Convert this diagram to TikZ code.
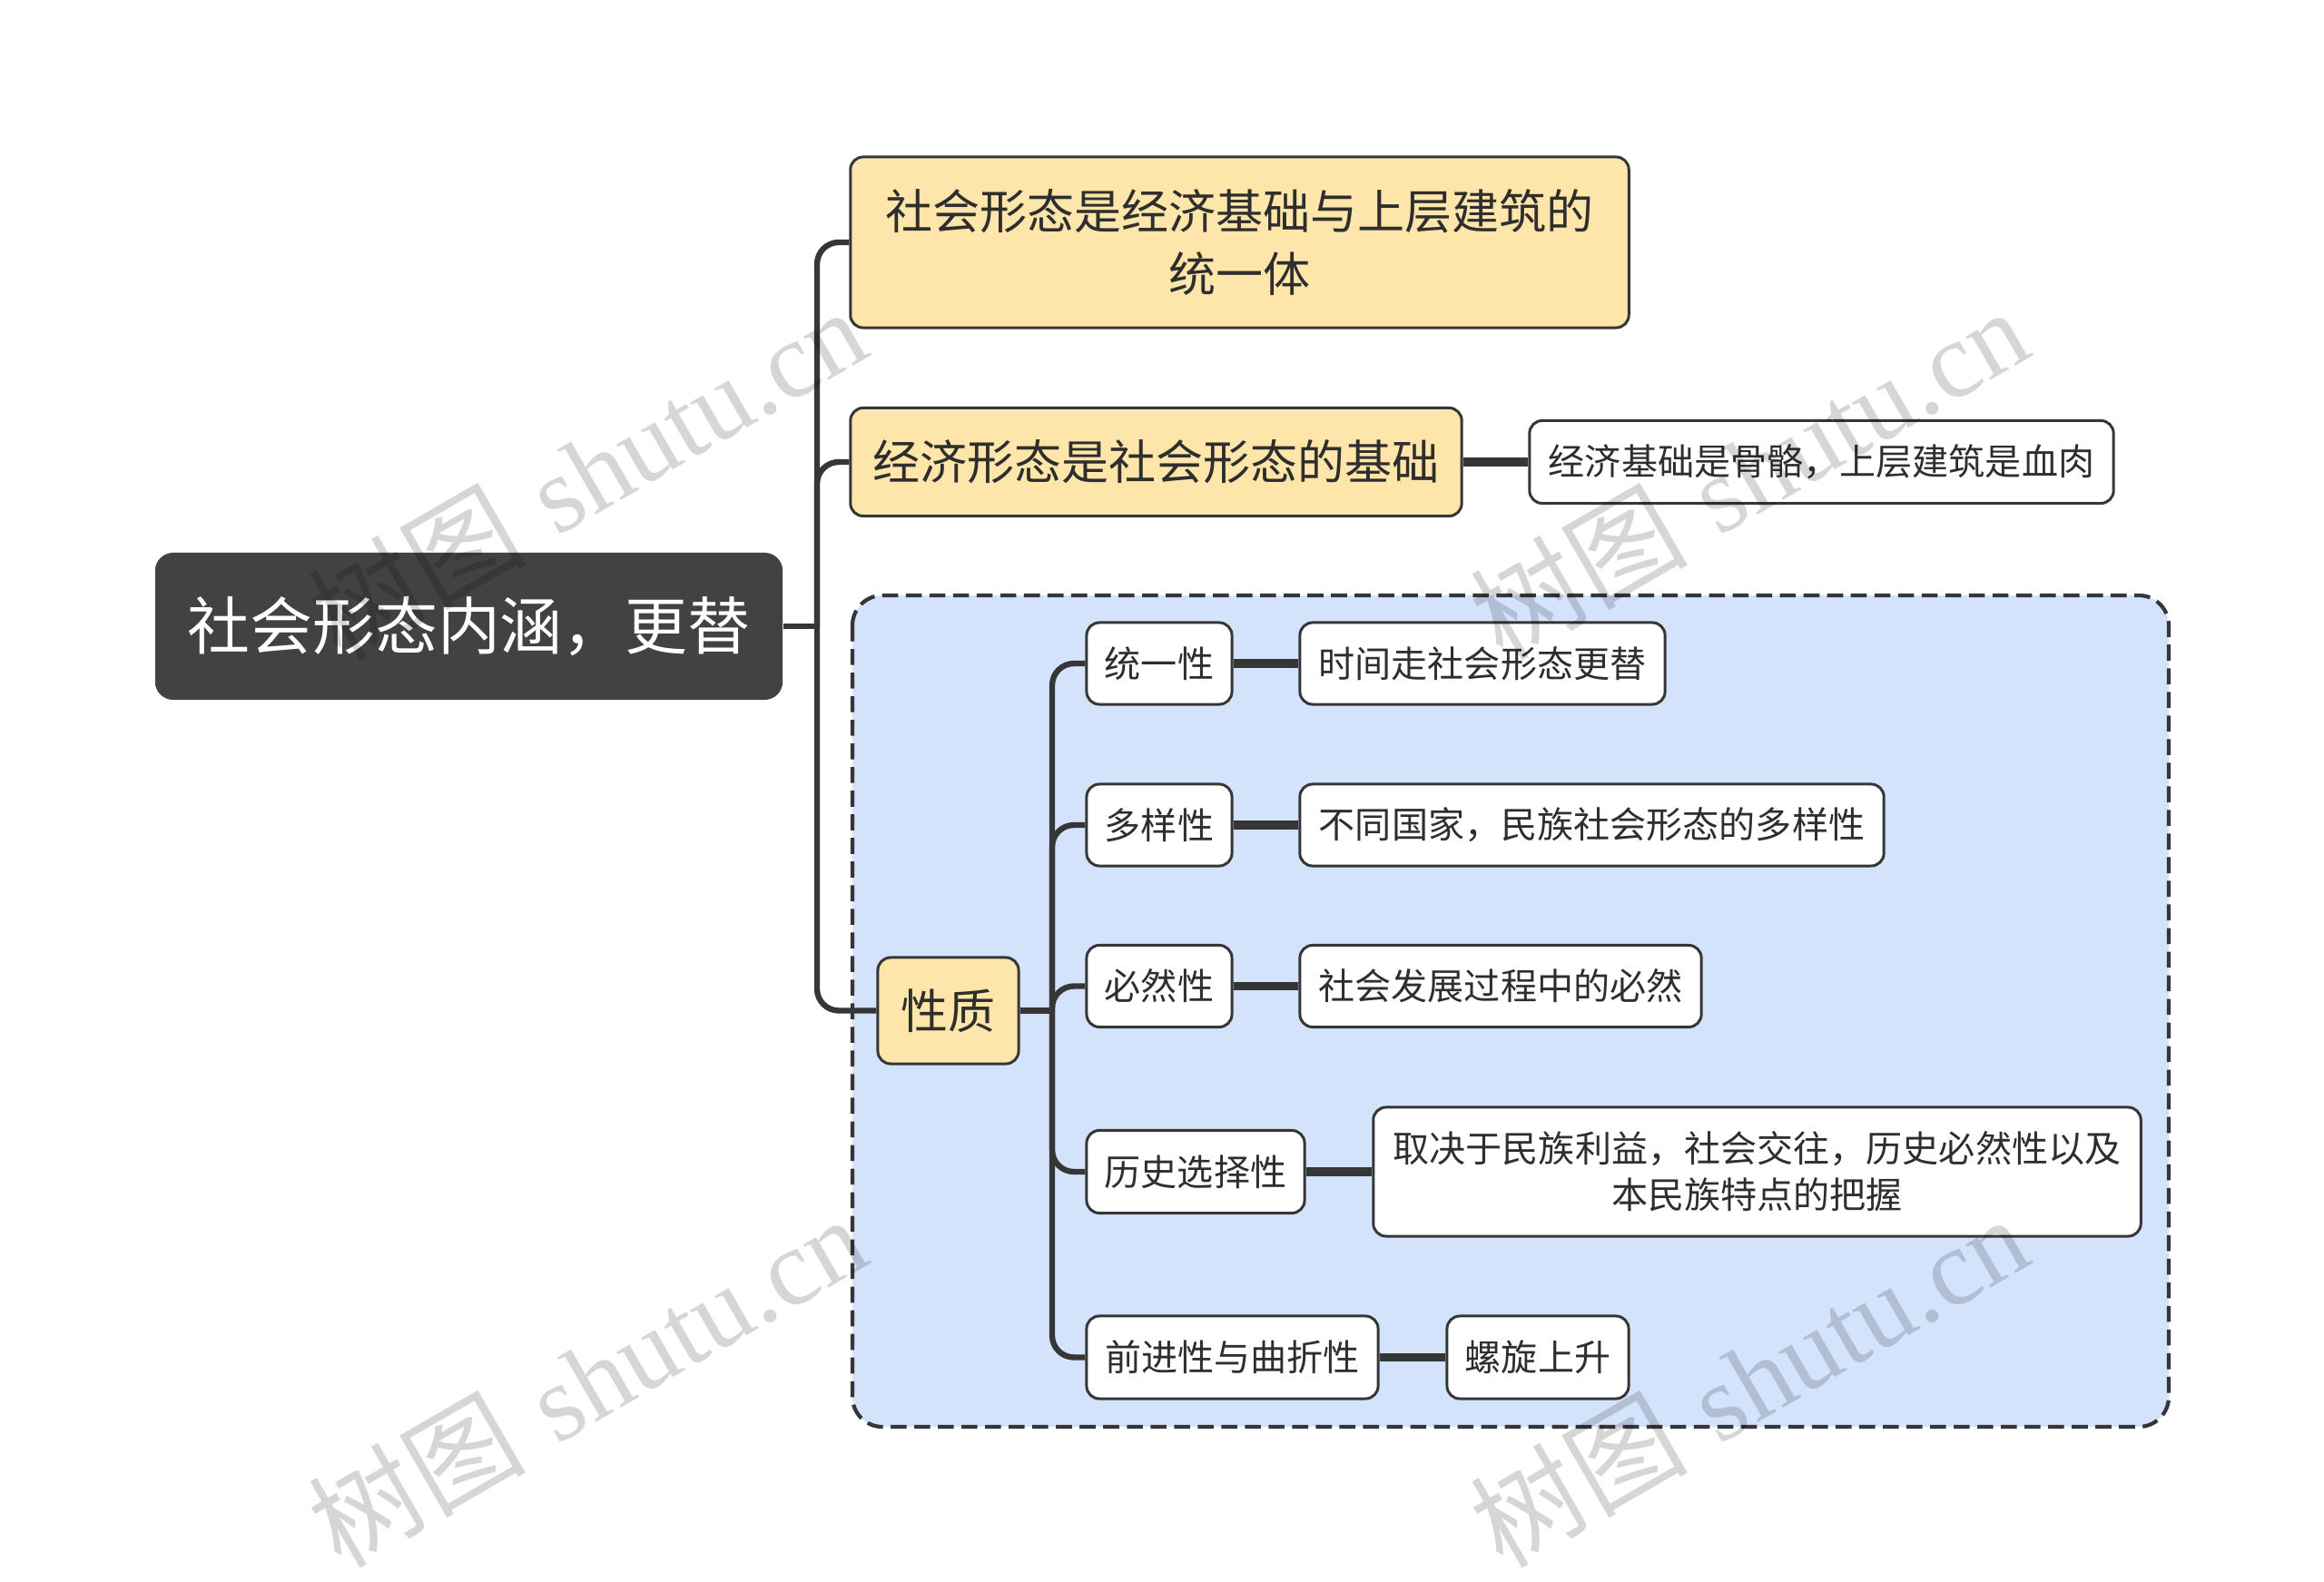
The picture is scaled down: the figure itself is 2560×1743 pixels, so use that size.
\documentclass[tikz,border=0pt]{standalone}
\usepackage{fontspec}
\newfontfamily\cjk{Noto Sans CJK SC}
\newfontfamily\wmlatin{Liberation Serif}
\definecolor{Ink}{HTML}{363636}
\definecolor{Txt}{HTML}{2E2E2E}
\definecolor{Coal}{HTML}{424242}
\definecolor{Sand}{HTML}{FEE5A9}
\definecolor{Sky}{HTML}{D3E3FC}
\tikzset{
  topic/.style={rounded corners=2mm,fill=Coal,text=white,inner sep=0pt,font=\cjk\fontsize{19.6}{24}\selectfont},
  main/.style={rounded corners=1.4mm,draw=Ink,line width=.85pt,fill=Sand,text=Txt,inner sep=0pt,align=center,font=\cjk\fontsize{14.8}{19.6}\selectfont},
  leaf/.style={main,fill=white,font=\cjk\fontsize{11.4}{14.5}\selectfont},
  branch/.style={draw=Ink,line width=1.8pt,rounded corners=2.4mm},
  link/.style={draw=Ink,line width=2.8pt},
  group/.style={draw=Ink,fill=Sky,line width=1.2pt,dash pattern=on 5pt off 2.4pt,rounded corners=3.3mm},
  wmark/.style={text=black,text opacity=.16,rotate=30,inner sep=0pt,font=\fontsize{34}{34}\selectfont}
}

\begin{document}
\begin{tikzpicture}[x=0.01cm,y=-0.01cm]
        \fill[white] (0,0) rectangle (2560,1743);
        % dashed area round the 性质 subtree
        \draw[group] (939,656) rectangle (2389,1572);

        \node[topic,minimum width=69.1mm,minimum height=16.2mm] (root) at (516.5,690) {社会形态内涵，更替};
        \node[main,minimum width=85.7mm,minimum height=18.8mm] (unity) at (1365.5,267) {社会形态是经济基础与上层建筑的\\统一体};
        \node[main,minimum width=67.3mm,minimum height=11.9mm] (base) at (1273.5,509) {经济形态是社会形态的基础};
        \node[leaf,minimum width=64.3mm,minimum height=9.1mm] (bone) at (2006.5,509) {经济基础是骨骼，上层建筑是血肉};
        \node[main,minimum width=15.5mm,minimum height=11.7mm] (nature) at (1044.5,1113.5) {性质};

        \node[leaf,minimum width=16mm,minimum height=9mm] (tong) at (1277,731) {统一性};
        \node[leaf,minimum width=40.2mm,minimum height=9mm] (tongx) at (1633,731) {时间走社会形态更替};
        \node[leaf,minimum width=16mm,minimum height=9mm] (duo) at (1277,909) {多样性};
        \node[leaf,minimum width=64.3mm,minimum height=9mm] (duox) at (1753.5,909) {不同国家，民族社会形态的多样性};
        \node[leaf,minimum width=16mm,minimum height=9mm] (bi) at (1277,1086.5) {必然性};
        \node[leaf,minimum width=44.2mm,minimum height=9mm] (bix) at (1653,1086.5) {社会发展过程中的必然};
        \node[leaf,minimum width=24mm,minimum height=9.1mm] (li) at (1317,1291) {历史选择性};
        \node[leaf,minimum width=84.5mm,minimum height=14.2mm] (lix) at (1935.5,1291) {取决于民族利益，社会交往，历史必然性以及\\本民族特点的把握};
        \node[leaf,minimum width=32.1mm,minimum height=9.1mm] (qian) at (1357.5,1495.5) {前进性与曲折性};
        \node[leaf,minimum width=20mm,minimum height=9.1mm] (qianx) at (1694,1495.5) {螺旋上升};

        \coordinate (hub) at (900,690);
        \coordinate (hubb) at (1159,1113.5);
        \draw[branch] (root.east) -- (hub);
        \draw[branch] (hub) |- (unity.west);
        \draw[branch] (hub) |- (base.west);
        \draw[branch] (hub) |- (nature.west);
        \draw[branch] (nature.east) -- (hubb);
        \draw[branch] (hubb) |- (tong.west);
        \draw[branch] (hubb) |- (duo.west);
        \draw[branch] (hubb) |- (bi.west);
        \draw[branch] (hubb) |- (li.west);
        \draw[branch] (hubb) |- (qian.west);

        \draw[link] (base.east) -- (bone.west);
        \draw[link] (tong.east) -- (tongx.west);
        \draw[link] (duo.east) -- (duox.west);
        \draw[link] (bi.east) -- (bix.west);
        \draw[link] (li.east) -- (lix.west);
        \draw[link] (qian.east) -- (qianx.west);

        % watermark
        \node[wmark] (wm1) at (646,521) {{\cjk 树图} {\wmlatin shutu.cn}};
        \node[wmark] (wm2) at (1926,521) {{\cjk 树图} {\wmlatin shutu.cn}};
        \node[wmark] (wm3) at (646,1521) {{\cjk 树图} {\wmlatin shutu.cn}};
        \node[wmark] (wm4) at (1926,1521) {{\cjk 树图} {\wmlatin shutu.cn}};
      \end{tikzpicture}
\end{document}
